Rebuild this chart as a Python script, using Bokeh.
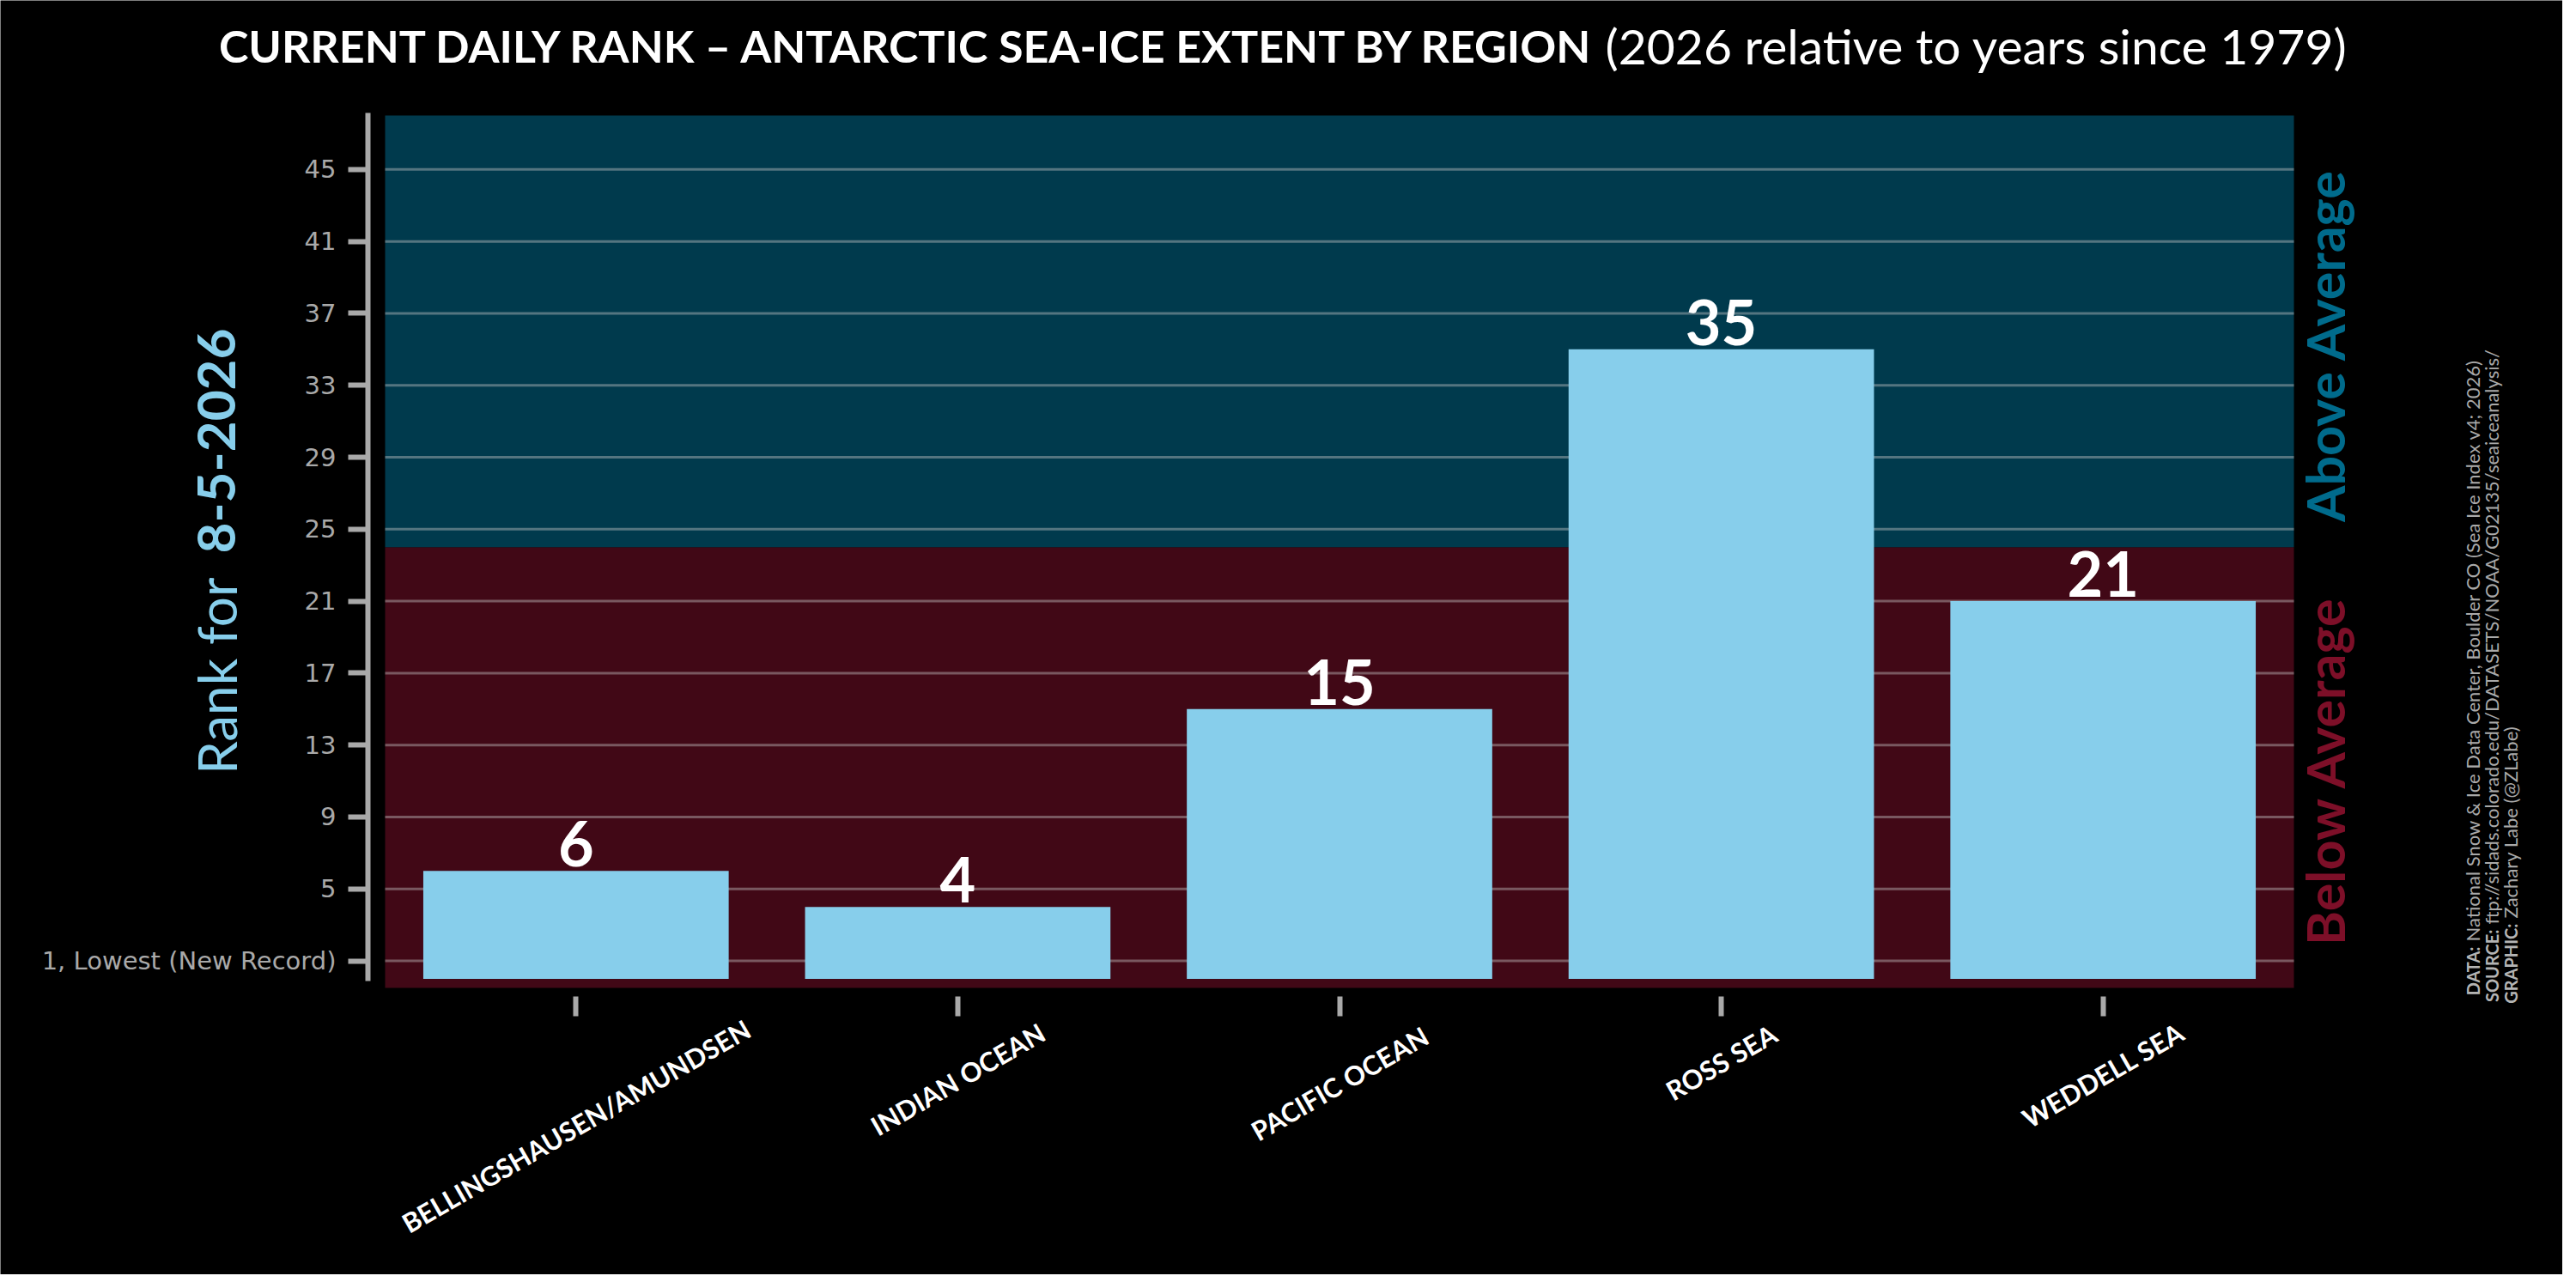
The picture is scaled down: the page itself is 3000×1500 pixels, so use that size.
import math
from bokeh.plotting import figure
from bokeh.models import Range1d, FixedTicker, CustomJSTickFormatter, ColumnDataSource
from bokeh.core.properties import value
from bokeh.embed import file_html
from bokeh.resources import INLINE

# ---------------- data ----------------
regions = ["BELLINGSHAUSEN/AMUNDSEN", "INDIAN OCEAN", "PACIFIC OCEAN", "ROSS SEA", "WEDDELL SEA"]
ranks = [6, 4, 15, 35, 21]
average_rank = 24
y_max = 48
y_ticks = [1, 5, 9, 13, 17, 21, 25, 29, 33, 37, 41, 45]
y_tick_labels = ["1, Lowest (New Record)", "5", "9", "13", "17", "21", "25", "29", "33", "37", "41", "45"]
title_bold = "CURRENT DAILY RANK \u2013 ANTARCTIC SEA-ICE EXTENT BY REGION"
title_rest = "(2026 relative to years since 1979)"
ylabel_plain = "Rank for"
ylabel_date = "8-5-2026"
above_text = "Above Average"
below_text = "Below Average"
source_prefixes = ["DATA:", "SOURCE:", "GRAPHIC:"]
source_texts = ["National Snow & Ice Data Center, Boulder CO (Sea Ice Index v4; 2026)",
                "ftp://sidads.colorado.edu/DATASETS/NOAA/G02135/seaiceanalysis/",
                "Zachary Labe (@ZLabe)"]

# ---------------- layout (reference pixels) ----------------
W, H, M = 2984, 1484, 8
AREA_L, AREA_R, AREA_T, AREA_B = 456, 2679, 142, 1158
SPINE_X, XTICK_Y = 436, 1168
n = len(regions)
xunit = (AREA_R - AREA_L) / n
yunit = (AREA_B - AREA_T) / (y_max + 0.5)


def dx(px):
    return -0.5 + (px - AREA_L) / xunit


def dy(py):
    return y_max - (py - AREA_T) / yunit


FONT = "Lato"
TICK_FONT = "DejaVu Sans"
GRAY = "#a9a9a9"
BLUE_BG = "#003a4d"
RED_BG = "#410816"
BAR = "#87ceeb"

p = figure(width=W, height=H,
           x_range=Range1d(dx(M), dx(M + W)), y_range=Range1d(dy(M + H), dy(M)),
           min_border=0, min_border_left=0, min_border_right=0,
           min_border_top=0, min_border_bottom=0,
           output_backend="svg", toolbar_location=None, title=None,
           background_fill_color="black", border_fill_color="black",
           outline_line_color=None)
p.outline_line_color = None
p.xgrid.visible = False
p.ygrid.visible = False

# background bands
p.quad(left=[-0.5], right=[n - 0.5], bottom=[-0.5], top=[average_rank],
       fill_color=RED_BG, line_color=None)
p.quad(left=[-0.5], right=[n - 0.5], bottom=[average_rank], top=[y_max],
       fill_color=BLUE_BG, line_color=None)

# grid lines
p.segment(x0=[-0.5] * len(y_ticks), x1=[n - 0.5] * len(y_ticks), y0=y_ticks, y1=y_ticks,
          line_color="#c8c8c8", line_alpha=0.42, line_width=3)

# bars
idx = list(range(n))
label_lift = 13 / yunit
src = ColumnDataSource(dict(x=idx, top=ranks, ly=[r + label_lift for r in ranks],
                            label=[str(r) for r in ranks]))
p.vbar(x="x", top="top", bottom=0, width=0.8, source=src, fill_color=BAR, line_color=None)
p.text(x="x", y="ly", text="label", source=src, text_font=value(FONT), text_font_style="bold",
       text_font_size="72px", text_color="white", text_align="center",
       text_baseline="bottom", y_offset=8)

# axes (placed at fixed locations, limited by bounds)
yax = p.yaxis[0]
yax.fixed_location = dx(SPINE_X)
yax.bounds = (dy(1150), dy(139))
yax.ticker = FixedTicker(ticks=y_ticks)
yax.major_label_overrides = {t: l for t, l in zip(y_ticks, y_tick_labels)}
yax.axis_line_color = GRAY
yax.axis_line_width = 6
yax.major_tick_line_color = GRAY
yax.major_tick_line_width = 6
yax.major_tick_out = 23
yax.major_tick_in = 0
yax.minor_tick_line_color = None
yax.major_label_standoff = 14
yax.major_label_text_font = TICK_FONT
yax.major_label_text_font_size = "29px"
yax.major_label_text_color = "#a9a9a9"

xax = p.xaxis[0]
xax.fixed_location = dy(XTICK_Y)
xax.bounds = (-0.5, n - 0.5)
xax.ticker = FixedTicker(ticks=idx)
xax.formatter = CustomJSTickFormatter(code="return ''")
xax.axis_line_color = None
xax.major_tick_line_color = GRAY
xax.major_tick_line_width = 6
xax.major_tick_out = 23
xax.major_tick_in = 0
xax.minor_tick_line_color = None

# rotated category labels (bounding box centred under each tick)
ang = math.radians(30)
lab_size = 31
lab_y = []
for r in regions:
    L = len(r) * 0.64 * lab_size
    lab_y.append(dy(1195 + (L * math.sin(ang) + 0.72 * lab_size * math.cos(ang)) / 2))
p.text(x=idx, y=lab_y, text=regions, angle=ang, text_font=value(FONT),
       text_font_style="bold", text_font_size=f"{lab_size}px",
       text_color="white", text_align="center", text_baseline="middle")

# title (bold part + regular part)
p.text(x=[dx(1869)], y=[dy(60)], text=[title_bold], text_font=value(FONT),
       text_font_style="bold", text_font_size="52px", text_color="white",
       text_align="right", text_baseline="middle")
p.text(x=[dx(1877)], y=[dy(60)], text=[title_rest], text_font=value(FONT),
       text_font_style="normal", text_font_size="57px", text_color="white",
       text_align="left", text_baseline="middle")

# y label (two styles, vertical)
vert = math.pi / 2
p.text(x=[dx(259)], y=[dy(680)], text=[ylabel_plain], angle=vert, text_font=value(FONT),
       text_font_style="normal", text_font_size="62px", text_color=BAR,
       text_align="right", text_baseline="middle")
p.text(x=[dx(259)], y=[dy(652)], text=[ylabel_date], angle=vert, text_font=value(FONT),
       text_font_style="bold", text_font_size="62px", text_color=BAR,
       text_align="left", text_baseline="middle")

# right side annotations
p.text(x=[dx(2715)], y=[dy(410)], text=[above_text], angle=vert, text_font=value(FONT),
       text_font_style="bold", text_font_size="61px", text_color="#006b8c",
       text_align="center", text_baseline="middle")
p.text(x=[dx(2715)], y=[dy(905)], text=[below_text], angle=vert, text_font=value(FONT),
       text_font_style="bold", text_font_size="61px", text_color="#7d0f28",
       text_align="center", text_baseline="middle")

# source block
line_x = [dx(v) for v in (2887, 2909, 2931)]
junction = [1110, 1090, 1083]
p.text(x=line_x, y=[dy(j) for j in junction], text=source_prefixes, angle=vert,
       text_font=value(FONT), text_font_style="bold", text_font_size="20px",
       text_color="#b4b4b4", text_align="right", text_baseline="middle")
p.text(x=line_x, y=[dy(j - 6) for j in junction], text=source_texts, angle=vert,
       text_font=value(FONT), text_font_style="normal", text_font_size="22px",
       text_color="#a9a9a9", text_align="left", text_baseline="middle")

open("out.html", "w").write(file_html(p, INLINE))
